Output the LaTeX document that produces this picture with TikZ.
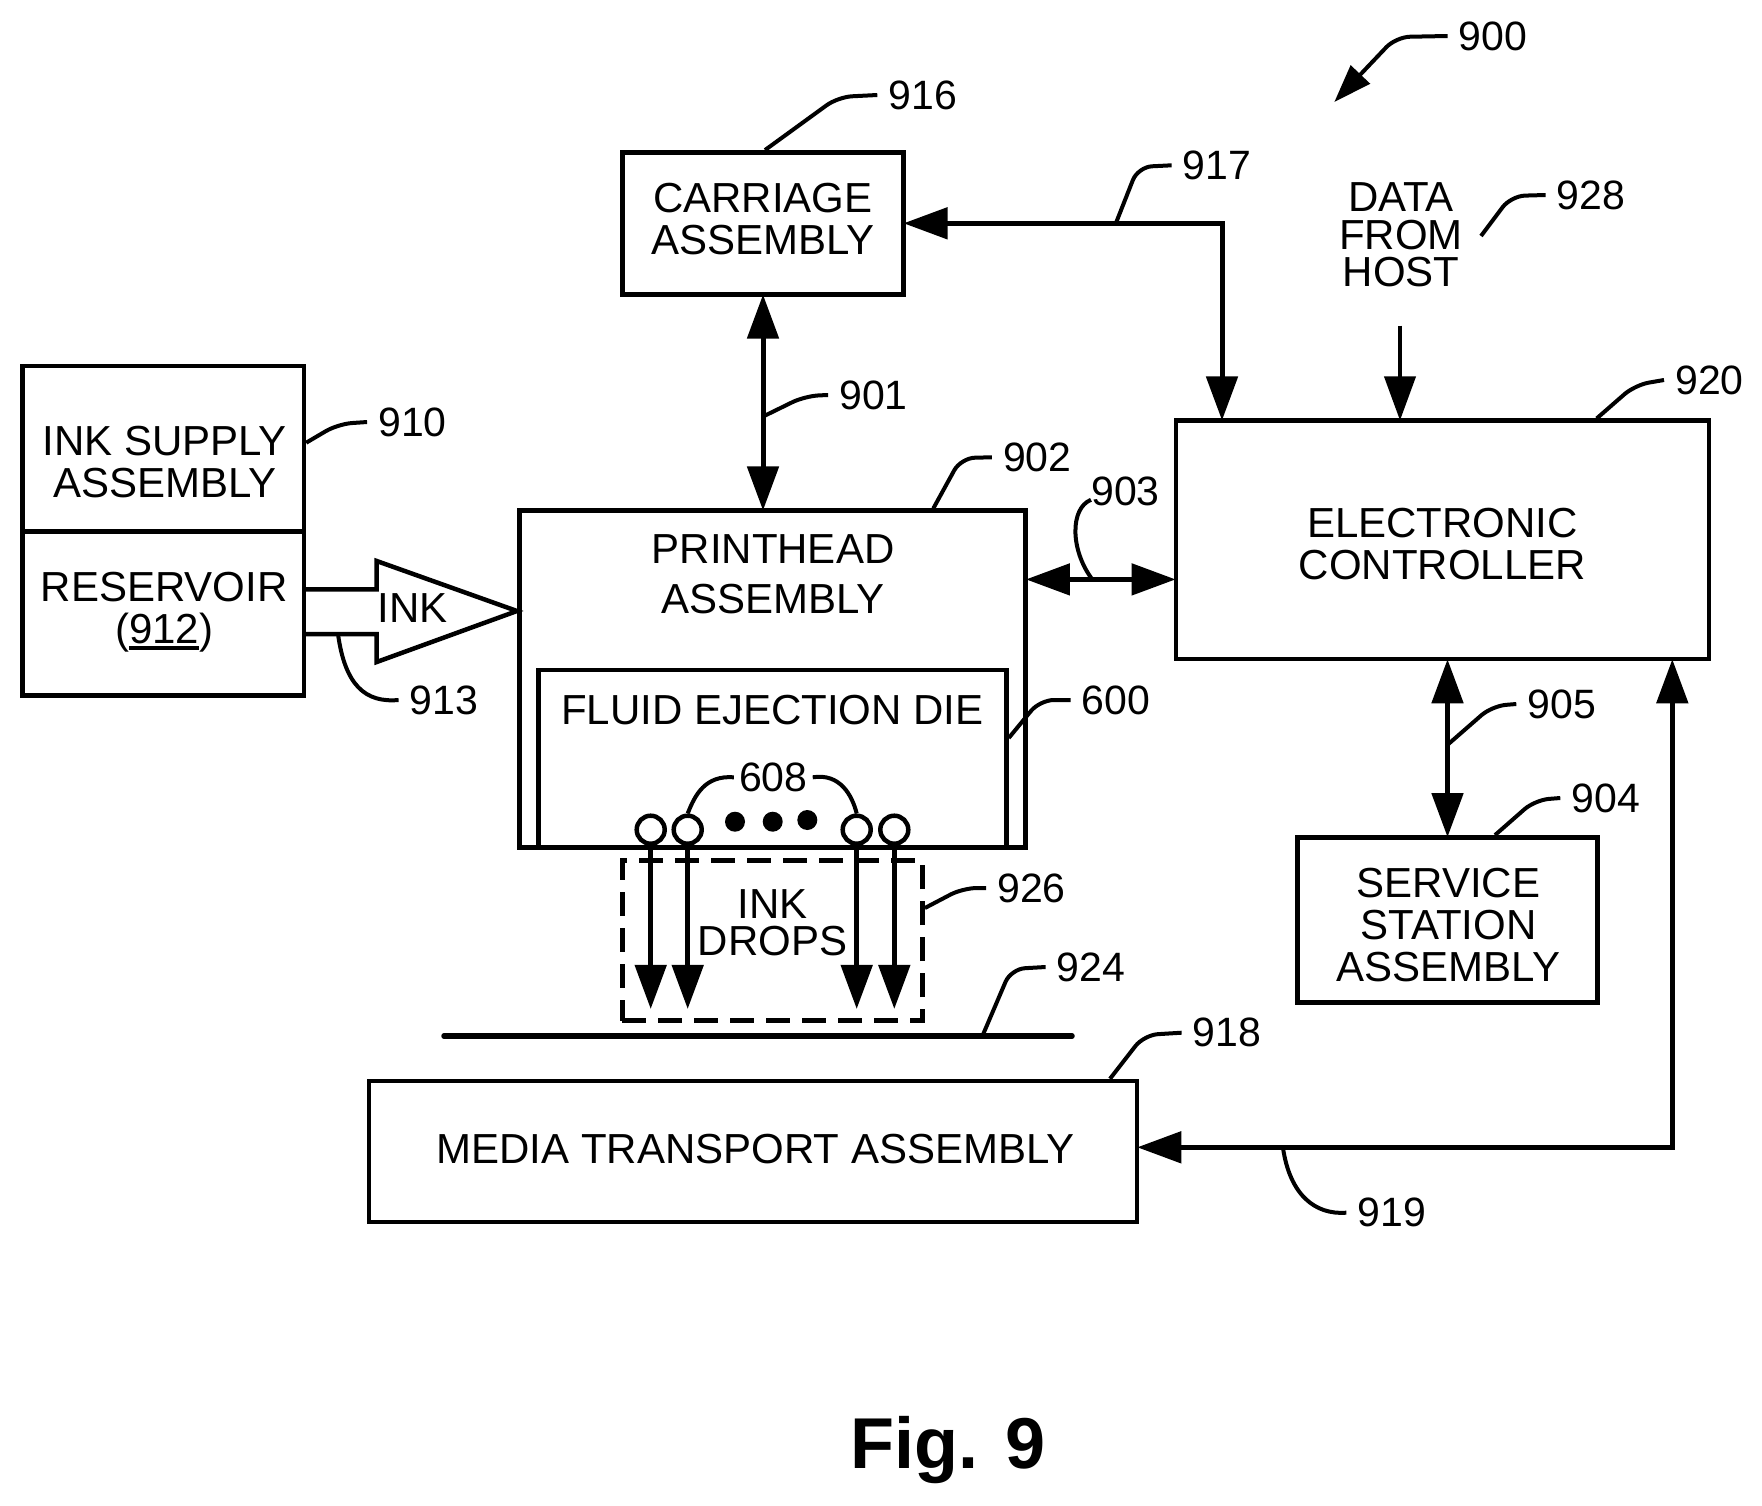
\documentclass[tikz,border=0pt]{standalone}
\usepackage{fontspec}
\setmainfont{Liberation Sans}
\usetikzlibrary{arrows.meta}
\tikzstyle{block} = [rectangle, draw, line width=4.5pt, inner sep=0pt]
\tikzstyle{txt} = [inner sep=0pt, align=center, font=\fontsize{42}{42}\selectfont]
\tikzstyle{lab} = [inner sep=0pt, inner xsep=11pt, font=\fontsize{41}{42}\selectfont]
\tikzstyle{line} = [draw, line width=5pt, shorten >=-2pt, -{Triangle[length=44pt,width=31pt]}]
\tikzstyle{both} = [draw, line width=5pt, shorten >=-2pt, shorten <=-2pt, {Triangle[length=44pt,width=31pt]}-{Triangle[length=44pt,width=31pt]}]
\tikzstyle{leader} = [draw, line width=4pt, rounded corners=14pt]
\tikzstyle{nozzle} = [circle, draw, line width=4.5pt, minimum size=28pt, inner sep=0pt]
\tikzstyle{dot} = [circle, fill, minimum size=20pt, inner sep=0pt]
\newcommand{\underref}[1]{\setbox0\hbox{#1}\rlap{\rule[-6pt]{\wd0}{4pt}}#1}
\begin{document}
\begin{tikzpicture}[x=1pt, y=-1pt]
    \useasboundingbox (0,0) rectangle (1762,1505);
    \node [block, minimum width=280.6pt, minimum height=142pt] (carriage) at (763,223.3) {};
    \node [block, below of=carriage, node distance=455.9pt, xshift=9.5pt, minimum width=506.4pt, minimum height=337pt] (printhead) {};
    \node [block, below of=printhead, node distance=79.65pt, minimum width=468pt, minimum height=177.7pt] (die) {};
    \node [block, left of=printhead, node distance=609.2pt, yshift=230.35pt, minimum width=281.3pt, minimum height=165.7pt] (supply) {};
    \node [block, below of=supply, node distance=164.65pt, minimum width=281.3pt, minimum height=163.6pt] (reservoir) {};
    \node [block, right of=printhead, node distance=670pt, yshift=139.35pt, minimum width=533.3pt, minimum height=238.3pt] (controller) {};
    \node [block, below of=controller, node distance=380pt, xshift=5pt, minimum width=300.4pt, minimum height=165pt] (service) {};
    \node [block, below of=printhead, node distance=472.3pt, xshift=-19.5pt, minimum width=768pt, minimum height=141pt] (media) {};
    \node [block, below of=die, node distance=181.85pt, minimum width=300.3pt, minimum height=160pt, dash pattern=on 24pt off 12pt] (drops) {};
    \node [txt, above of=carriage, node distance=4pt] (carriagetext) {CARRIAGE\\ASSEMBLY};
    \node [txt, above of=printhead, node distance=104.7pt, xshift=0.5pt] (printheadtext) {PRINTHEAD\\[8pt]ASSEMBLY};
    \node [txt, above of=die, node distance=49.25pt] (dietext) {FLUID EJECTION DIE};
    \node [txt, below of=supply, node distance=13pt, xshift=1.5pt] (supplytext) {INK SUPPLY\\ASSEMBLY};
    \node [txt, above of=reservoir, node distance=1pt, xshift=1pt] (reservoirtext) {RESERVOIR\\(\underref{912})};
    \node [txt, below of=controller, node distance=4pt] (controllertext) {ELECTRONIC\\CONTROLLER};
    \node [txt, below of=service, node distance=5pt, xshift=1pt] (servicetext) {SERVICE\\STATION\\ASSEMBLY};
    \node [txt, above of=media, node distance=2pt, xshift=2.5pt] (mediatext) {MEDIA TRANSPORT ASSEMBLY};
    \node [txt, below of=drops, node distance=-17.9pt, font=\fontsize{42}{37}\selectfont] (dropstext) {INK\\DROPS};
    \node [txt, font=\fontsize{42}{37.5}\selectfont] (host) at (1401,235) {DATA\\FROM\\HOST};
    \node [txt] (inktext) at (413,608) {INK};
    \node [lab] (l900) at (1493,36) {900};
    \node [lab] (l901) at (873.5,395) {901};
    \node [lab] (l902) at (1037.3,457.3) {902};
    \node [lab, inner xsep=0pt] (l903) at (1125.4,491.8) {903};
    \node [lab] (l904) at (1605.7,798) {904};
    \node [lab] (l905) at (1561.7,704) {905};
    \node [lab] (l910) at (412.5,422) {910};
    \node [lab] (l913) at (444,700) {913};
    \node [lab] (l916) at (922.7,95) {916};
    \node [lab] (l917) at (1217,165.3) {917};
    \node [lab] (l918) at (1227,1032.7) {918};
    \node [lab] (l919) at (1391.7,1212.7) {919};
    \node [lab] (l920) at (1709.4,380) {920};
    \node [lab] (l924) at (1091,967) {924};
    \node [lab] (l926) at (1031.5,888) {926};
    \node [lab] (l928) at (1591,195) {928};
    \node [lab] (l600) at (1116,700) {600};
    \node [lab, inner xsep=5pt] (l608) at (773.3,777.3) {608};
    \node [font=\fontsize{72}{72}\selectfont\bfseries, inner sep=0pt, anchor=base] (figure) at (948,1468) {Fig. 9};
    \coordinate (link) at (1092.3,579.4);
    \coordinate (hostout) at (1400,325.7);
    \coordinate (hostref) at (1481,236);
    \coordinate (assembly) at (1334.3,102);
    \coordinate (medialeft) at (444,1036);
    \coordinate (mediaright) at (1072,1036);
    \coordinate (inkupper) at (306,589.3);
    \coordinate (inklower) at (306,634);
    \path [both] (carriage.south) -- (carriage.south |- printhead.north);
    \path [both] (carriage.east) -| ([xshift=-220.5pt]controller.north);
    \path [both] (printhead.east |- link) -- (controller.west |- link);
    \path [both] (service.north) -- (service.north |- controller.south);
    \path [both] ([yshift=4.2pt]media.east) -| ([xshift=229.8pt]controller.south);
    \path [line, line width=4pt] (hostout) -- (hostout |- controller.north);
    \draw [line width=4.5pt] (inkupper) -- (376.7,589.3) -- (376.7,561) -- (517,611) -- (376.7,662) -- (376.7,634) -- (inklower);
    \draw [line width=5.5pt, line cap=round] (medialeft) -- (mediaright);
    \foreach \n/\x in {1/650.7,2/687.7,3/856.7,4/894.3} {
        \node [nozzle] (noz\n) at (\x,829.7) {};
        \path [line] (noz\n.south) -- ++(0,161);
    }
    \node [dot] (dot1) at (735,821.7) {};
    \node [dot] (dot2) at (772.7,821.7) {};
    \node [dot] (dot3) at (807.3,820) {};
    \path [leader] (l910.west) -- (338,424) -- ([yshift=6.15pt]supply.east);
    \path [leader] (l916.west) -- (838,97) -- ([xshift=2pt]carriage.north);
    \path [leader] (l901.west) -- (805,396) -- ([yshift=-120pt]carriage.south);
    \path [leader] (l902.west) -- (961,458) -- ([xshift=160.8pt]printhead.north);
    \path [leader] (l917.west) -- (1138,167) -- ([xshift=210.3pt]carriage.east);
    \path [leader] (l928.west) -- (1511,196) -- (hostref);
    \path [leader] (l920.west) -- (1635,385) -- ([xshift=154.2pt]controller.north);
    \path [leader] (l905.west) -- (1492,706) -- ([yshift=90.3pt]service.north);
    \path [leader] (l904.west) -- (1535,800) -- ([xshift=47.5pt]service.north);
    \path [leader] (l918.west) -- (1144,1035) -- ([xshift=357pt]media.north);
    \path [leader] (l924.west) -- (1011,969) -- ([xshift=-89.6pt]mediaright);
    \path [leader] (l926.west) -- (963,888) -- ([yshift=32.7pt]drops.east);
    \path [leader] (l600.west) -- (1040,700) -- ([yshift=20.85pt]die.east);
    \path [leader, -{Triangle[length=38pt,width=26pt]}] (l900.west) -- (1396,37) -- (assembly);
    \path [leader] ([yshift=-8pt]l903.west) .. controls (1070,508) and (1070,550) .. (link);
    \path [leader] (l913.west) .. controls (365,703) and (345,685) .. ([xshift=32pt]inklower);
    \path [leader] (l919.west) .. controls (1315,1215) and (1290,1195) .. (1283,1148);
    \path [leader] (l608.west) .. controls (705,775) and (695,795) .. (noz2.north);
    \path [leader] (l608.east) .. controls (840,773) and (852,795) .. (noz3.north);
\end{tikzpicture}
\end{document}
